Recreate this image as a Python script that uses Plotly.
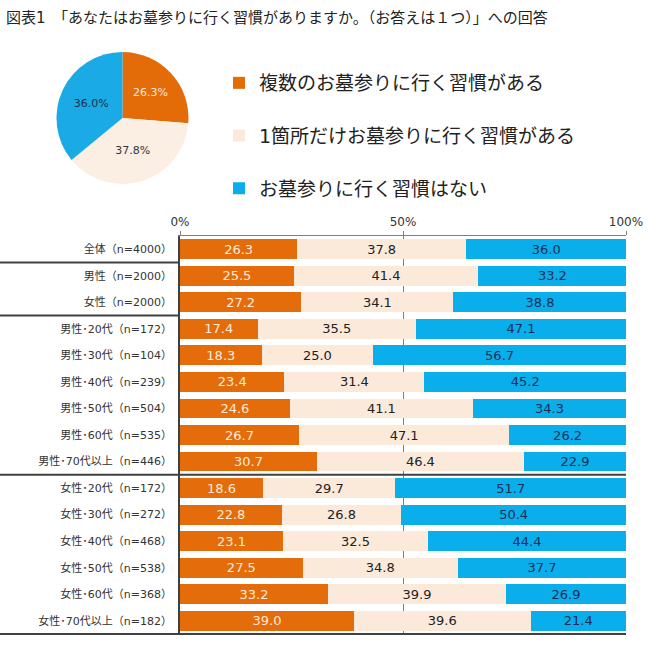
import plotly.graph_objects as go

title_text = "図表1　「あなたはお墓参りに行く習慣がありますか。（お答えは１つ）」への回答"

categories = [
    "全体（n=4000）", "男性（n=2000）", "女性（n=2000）",
    "男性･20代（n=172）", "男性･30代（n=104）", "男性･40代（n=239）",
    "男性･50代（n=504）", "男性･60代（n=535）", "男性･70代以上（n=446）",
    "女性･20代（n=172）", "女性･30代（n=272）", "女性･40代（n=468）",
    "女性･50代（n=538）", "女性･60代（n=368）", "女性･70代以上（n=182）",
]
series_names = ["複数のお墓参りに行く習慣がある", "1箇所だけお墓参りに行く習慣がある", "お墓参りに行く習慣はない"]
multi = [26.3, 25.5, 27.2, 17.4, 18.3, 23.4, 24.6, 26.7, 30.7, 18.6, 22.8, 23.1, 27.5, 33.2, 39.0]
single = [37.8, 41.4, 34.1, 35.5, 25.0, 31.4, 41.1, 47.1, 46.4, 29.7, 26.8, 32.5, 34.8, 39.9, 39.6]
none_ = [36.0, 33.2, 38.8, 47.1, 56.7, 45.2, 34.3, 26.2, 22.9, 51.7, 50.4, 44.4, 37.7, 26.9, 21.4]
pie_values = [26.3, 37.8, 36.0]
x_tickvals = [0, 50, 100]
x_ticktext = ["0%", "50%", "100%"]

colors = ["#E46C0A", "#FBE9DA", "#0AAEEB"]
text_colors = ["#FDEBDD", "#222222", "#1B2F55"]
FONT = "DejaVu Sans, Noto Sans CJK JP, sans-serif"

fig = go.Figure()
for name, vals, c, tc in zip(series_names, [multi, single, none_], colors, text_colors):
    fig.add_trace(go.Bar(
        y=categories, x=vals, name=name, orientation="h",
        marker=dict(color=c, line=dict(width=0)),
        text=[f"{v:.1f}" for v in vals], textposition="inside",
        insidetextanchor="middle", textangle=0, constraintext="none",
        textfont=dict(color=tc, size=13, family=FONT),
        width=0.75, legendgroup=name,
    ))

fig.add_trace(go.Pie(
    values=pie_values, labels=series_names, sort=False, direction="clockwise", rotation=0,
    marker=dict(colors=["#E36C09", "#FBEEE2", "#1AAAE5"], line=dict(width=0)),
    texttemplate="%{value:.1f}%", textposition="inside", insidetextorientation="horizontal",
    textfont=dict(size=11, color=["#FDEBDD", "#333333", "#1B2F55"], family=FONT),
    domain=dict(x=[55/650, 190/650], y=[1-184/663, 1-52/663]),
    showlegend=False, hoverinfo="skip",
))

x0d, x1d = 180/650, 626/650
fig.update_layout(
    width=650, height=663, barmode="stack",
    margin=dict(l=0, r=0, t=0, b=0, pad=0, autoexpand=False),
    paper_bgcolor="white", plot_bgcolor="white",
    font=dict(family=FONT, color="#333333"),
    xaxis=dict(domain=[x0d, x1d], range=[0, 100], side="top", tickvals=x_tickvals, ticktext=x_ticktext,
               showgrid=True, gridcolor="#7F7F7F", gridwidth=1, zeroline=False,
               showline=True, linecolor="#7F7F7F", linewidth=1,
               ticks="outside", ticklen=4, tickcolor="#7F7F7F", automargin=False,
               tickfont=dict(size=12, color="#333333")),
    yaxis=dict(domain=[1-635/663, 1-236/663], autorange="reversed", showgrid=False,
               showline=True, linecolor="#404040", linewidth=1.5, ticks="", automargin=False,
               ticklabelstandoff=4, tickfont=dict(size=11, color="#333333")),
    legend=dict(x=219/650, y=1-64/663, xanchor="left", yanchor="top",
                font=dict(size=19, color="#222222"), tracegroupgap=25,
                bgcolor="rgba(0,0,0,0)"),
    showlegend=True,
)

lines = [(0.5, 0, x0d), (2.5, 0, x0d), (8.5, 0, x1d), (14.5, 0, x1d)]
for yv, xa, xb in lines:
    fig.add_shape(type="line", xref="paper", yref="y", x0=xa, x1=xb, y0=yv, y1=yv,
                  line=dict(color="#404040", width=2))

fig.add_annotation(text=title_text, xref="paper", yref="paper", x=4/650, y=1-18/663,
                   xanchor="left", yanchor="middle", showarrow=False,
                   font=dict(size=15, color="#222222", family=FONT))

fig.write_html("out.html")
